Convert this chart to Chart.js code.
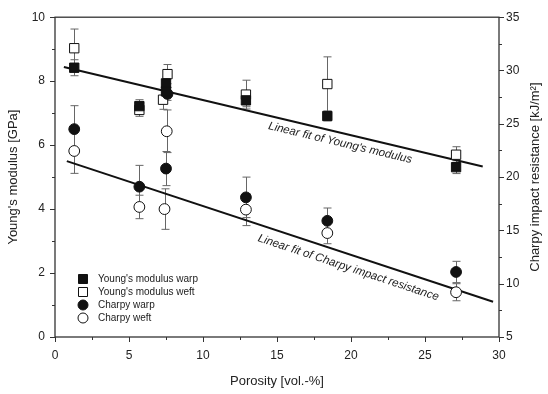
<!DOCTYPE html>
<html>
<head>
<meta charset="utf-8">
<script src="https://cdn.jsdelivr.net/npm/chart.js@4/dist/chart.umd.min.js"></script>
<style>
  html, body { margin: 0; padding: 0; background: #fff; }
  #wrap { width: 548px; height: 394px; }
</style>
</head>
<body>
<div id="wrap"><canvas id="porosityChart"></canvas></div>
<script>
// porosity [vol.-%] and measured values per sample
const youngWarpX = [1.3, 5.7, 7.5, 7.5, 12.9, 18.4, 27.1];
const youngWarp = [8.42, 7.22, 7.93, 7.68, 7.4, 6.91, 5.31];
const youngWarpErr = [0.25, 0.2, 0.2, 0.2, 0.2, 0.15, 0.2];

const youngWeftX = [1.3, 5.7, 7.6, 7.3, 12.9, 18.4, 27.1];
const youngWeft = [9.03, 7.1, 8.22, 7.42, 7.58, 7.91, 5.7];
const youngWeftErr = [0.6, 0.2, 0.3, 0.3, 0.45, 0.85, 0.25];

// Charpy impact resistance [kJ/m²]
const charpyWarpX = [1.3, 5.7, 7.5, 7.6, 12.9, 18.4, 27.1];
const charpyWarp = [24.5, 19.1, 20.8, 27.8, 18.1, 15.9, 11.1];
const charpyWarpErr = [2.2, 2.0, 1.6, 0.6, 1.9, 1.2, 1.0];

const charpyWeftX = [1.3, 5.7, 7.55, 7.4, 12.9, 18.4, 27.1];
const charpyWeft = [22.45, 17.2, 24.3, 17.0, 16.95, 14.75, 9.2];
const charpyWeftErr = [2.1, 1.1, 2.0, 1.9, 1.5, 1.0, 0.8];

// end points of the two linear fits
const youngFitX = [0.6, 28.9];
const youngFitY = [8.44, 5.33];
const charpyFitX = [0.8, 29.6];
const charpyFitY = [21.5, 8.3];

const xTicks = [0, 5, 10, 15, 20, 25, 30];
const yTicks = [0, 2, 4, 6, 8, 10];
const y2Ticks = [5, 10, 15, 20, 25, 30, 35];

const legendLabels = ["Young's modulus warp", "Young's modulus weft", 'Charpy warp', 'Charpy weft'];
const rightTitle = 'Charpy impact resistance [kJ/m²]';

const FONT = 'Liberation Sans, Arial, sans-serif';
const INK = '#222';

const pts = (xs, ys) => xs.map((x, i) => ({ x: x, y: ys[i] }));

function series(label, xs, ys, errs, axis, style, filled) {
  return {
    label: label,
    data: pts(xs, ys),
    errorBars: errs,
    yAxisID: axis,
    pointStyle: style,
    pointRadius: style === 'rect' ? 6.6 : 5.4,
    pointBorderWidth: 1,
    pointBorderColor: '#111',
    pointBackgroundColor: filled ? '#111' : '#fff',
    showLine: false,
    order: filled ? 1 : 2
  };
}

function fitLine(xs, ys, axis, text, at, offset) {
  return {
    data: pts(xs, ys),
    yAxisID: axis,
    type: 'line',
    borderColor: '#111',
    borderWidth: 2,
    pointRadius: 0,
    fill: false,
    order: 10,
    fitLabel: { text: text, at: at, offset: offset }
  };
}

const datasets = [
  series(legendLabels[0], youngWarpX, youngWarp, youngWarpErr, 'y', 'rect', true),
  series(legendLabels[1], youngWeftX, youngWeft, youngWeftErr, 'y', 'rect', false),
  series(legendLabels[2], charpyWarpX, charpyWarp, charpyWarpErr, 'y2', 'circle', true),
  series(legendLabels[3], charpyWeftX, charpyWeft, charpyWeftErr, 'y2', 'circle', false),
  fitLine(youngFitX, youngFitY, 'y', "Linear fit of Young's modulus", 0.665, 10),
  fitLine(charpyFitX, charpyFitY, 'y2', 'Linear fit of Charpy impact resistance', 0.67, 13)
];

// vertical error bars with caps, drawn under the markers
const errorBarPlugin = {
  id: 'errorBars',
  beforeDatasetsDraw(chart) {
    const ctx = chart.ctx;
    const xs = chart.scales.x;
    ctx.save();
    ctx.strokeStyle = '#666';
    ctx.lineWidth = 1;
    chart.data.datasets.forEach((ds) => {
      if (!ds.errorBars) return;
      const ys = chart.scales[ds.yAxisID];
      ds.data.forEach((p, i) => {
        const e = ds.errorBars[i];
        const px = Math.round(xs.getPixelForValue(p.x)) + 0.5;
        const top = ys.getPixelForValue(p.y + e);
        const bot = ys.getPixelForValue(p.y - e);
        ctx.beginPath();
        ctx.moveTo(px, top); ctx.lineTo(px, bot);
        ctx.moveTo(px - 4, top); ctx.lineTo(px + 4, top);
        ctx.moveTo(px - 4, bot); ctx.lineTo(px + 4, bot);
        ctx.stroke();
      });
    });
    ctx.restore();
  }
};

// frame, tick marks, right axis title, fit captions and legend box
const decorPlugin = {
  id: 'decor',
  afterDraw(chart) {
    const ctx = chart.ctx;
    const a = chart.chartArea;
    const { x, y, y2 } = chart.scales;
    ctx.save();
    ctx.strokeStyle = '#333';
    ctx.lineWidth = 1.3;
    ctx.strokeRect(a.left, a.top, a.right - a.left, a.bottom - a.top);

    ctx.lineWidth = 1;
    ctx.beginPath();
    for (let v = 0; v <= 30.001; v += 2.5) {
      const px = Math.round(x.getPixelForValue(v)) + 0.5;
      const len = v % 5 === 0 ? 5 : 3;
      ctx.moveTo(px, a.bottom); ctx.lineTo(px, a.bottom + len);
    }
    for (let v = 0; v <= 10; v += 1) {
      const py = Math.round(y.getPixelForValue(v)) + 0.5;
      const len = v % 2 === 0 ? 5 : 3;
      ctx.moveTo(a.left, py); ctx.lineTo(a.left - len, py);
    }
    for (let v = 5; v <= 35.001; v += 2.5) {
      const py = Math.round(y2.getPixelForValue(v)) + 0.5;
      const len = v % 5 === 0 ? 5 : 3;
      ctx.moveTo(a.right, py); ctx.lineTo(a.right + len, py);
    }
    ctx.stroke();

    // right axis title, reading bottom to top like the left one
    ctx.fillStyle = INK;
    ctx.font = '13px ' + FONT;
    ctx.textAlign = 'center';
    ctx.textBaseline = 'middle';
    ctx.save();
    ctx.translate(y2.right - 13, (a.top + a.bottom) / 2);
    ctx.rotate(-Math.PI / 2);
    ctx.fillText(rightTitle, 0, 0);
    ctx.restore();

    // captions along the fit lines
    ctx.font = 'italic 11.5px ' + FONT;
    chart.data.datasets.forEach((ds) => {
      if (!ds.fitLabel) return;
      const ys = chart.scales[ds.yAxisID];
      const p0 = ds.data[0], p1 = ds.data[1];
      const x0 = x.getPixelForValue(p0.x), y0 = ys.getPixelForValue(p0.y);
      const x1 = x.getPixelForValue(p1.x), y1 = ys.getPixelForValue(p1.y);
      const ang = Math.atan2(y1 - y0, x1 - x0);
      const t = ds.fitLabel.at;
      const cx = x0 + (x1 - x0) * t - Math.sin(ang) * ds.fitLabel.offset;
      const cy = y0 + (y1 - y0) * t + Math.cos(ang) * ds.fitLabel.offset;
      ctx.save();
      ctx.translate(cx, cy);
      ctx.rotate(ang);
      ctx.fillText(ds.fitLabel.text, 0, 0);
      ctx.restore();
    });

    // legend inside the plot, lower left
    const lx = a.left + 28, ly = a.bottom - 58, step = 13;
    ctx.font = '10px ' + FONT;
    ctx.textAlign = 'left';
    chart.data.datasets.slice(0, 4).forEach((ds, i) => {
      const cy = ly + i * step;
      ctx.beginPath();
      if (ds.pointStyle === 'rect') {
        ctx.rect(lx - 4.5, cy - 4.5, 9, 9);
      } else {
        ctx.arc(lx, cy, 5, 0, Math.PI * 2);
      }
      ctx.fillStyle = ds.pointBackgroundColor;
      ctx.fill();
      ctx.strokeStyle = '#111';
      ctx.stroke();
      ctx.fillStyle = INK;
      ctx.fillText(ds.label, lx + 15, cy);
    });
    ctx.restore();
  }
};

const tickFont = { family: FONT, size: 12 };
const titleFont = { family: FONT, size: 13 };

new Chart(document.getElementById('porosityChart'), {
  type: 'scatter',
  data: { datasets: datasets },
  options: {
    responsive: true,
    maintainAspectRatio: false,
    animation: false,
    layout: { padding: { top: 10, right: 0, left: 0, bottom: 0 } },
    plugins: {
      legend: { display: false },
      tooltip: { enabled: false }
    },
    scales: {
      x: {
        type: 'linear',
        min: 0, max: 30,
        afterFit: (s) => { s.height = 57; },
        afterBuildTicks: (s) => { s.ticks = xTicks.map((v) => ({ value: v })); },
        grid: { display: false, drawTicks: false },
        border: { display: false },
        ticks: { font: tickFont, color: INK, padding: 11, maxRotation: 0 },
        title: { display: true, text: 'Porosity [vol.-%]', font: titleFont, color: INK, padding: { bottom: 5 } }
      },
      y: {
        type: 'linear',
        position: 'left',
        min: 0, max: 10,
        afterFit: (s) => { s.width = 55; },
        afterBuildTicks: (s) => { s.ticks = yTicks.map((v) => ({ value: v })); },
        grid: { display: false, drawTicks: false },
        border: { display: false },
        ticks: { font: tickFont, color: INK, padding: 10 },
        title: { display: true, text: "Young's modulus [GPa]", font: titleFont, color: INK, padding: { top: 6 } }
      },
      y2: {
        type: 'linear',
        position: 'right',
        min: 5, max: 35,
        afterFit: (s) => { s.width = 49; },
        afterBuildTicks: (s) => { s.ticks = y2Ticks.map((v) => ({ value: v })); },
        grid: { display: false, drawTicks: false },
        border: { display: false },
        ticks: { font: tickFont, color: INK, padding: 7 },
        title: { display: false }
      }
    }
  },
  plugins: [errorBarPlugin, decorPlugin]
});
</script>
</body>
</html>
